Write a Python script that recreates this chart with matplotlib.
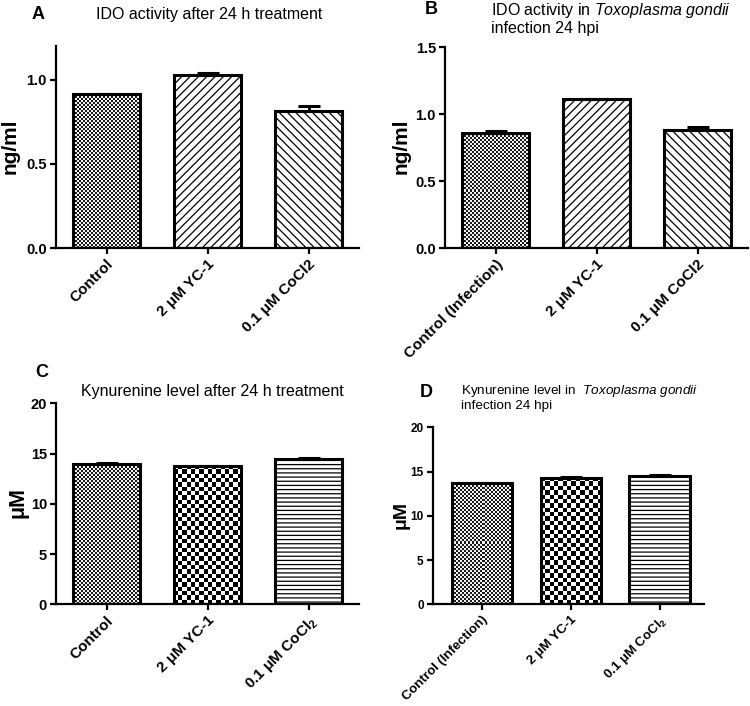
import numpy as np
import matplotlib
matplotlib.use("Agg")
import matplotlib.pyplot as plt
from matplotlib.colors import ListedColormap

plt.rcParams['font.family'] = ['Liberation Sans', 'DejaVu Sans']
plt.rcParams['mathtext.fontset'] = 'custom'
plt.rcParams['mathtext.rm'] = 'Liberation Sans'
plt.rcParams['mathtext.it'] = 'Liberation Sans:italic'
plt.rcParams['mathtext.bf'] = 'Liberation Sans:bold'
plt.rcParams['hatch.linewidth'] = 0.9

# ---------------- data ----------------
labels_A = ["Control", "2 \u03bcM YC-1", "0.1 \u03bcM CoCl2"]
values_A = [0.912, 1.030, 0.812]
errors_A = [0.005, 0.008, 0.032]

labels_B = ["Control (Infection)", "2 \u03bcM YC-1", "0.1 \u03bcM CoCl2"]
values_B = [0.857, 1.110, 0.884]
errors_B = [0.016, 0.006, 0.018]

labels_C = ["Control", "2 \u03bcM YC-1", "0.1 \u03bcM CoCl" + r"$_\mathbf{2}$"]
values_C = [13.93, 13.75, 14.42]
errors_C = [0.10, 0.05, 0.10]

labels_D = ["Control (Infection)", "2 \u03bcM YC-1", "0.1 \u03bcM CoCl" + r"$_\mathbf{2}$"]
values_D = [13.66, 14.27, 14.48]
errors_D = [0.06, 0.14, 0.08]

W, H = 750, 706
fig = plt.figure(figsize=(W / 100, H / 100), dpi=100)


def px_axes(x0, ytop, x1, ybot):
    return fig.add_axes([x0 / W, 1 - ybot / H, (x1 - x0) / W, (ybot - ytop) / H])


def checker(ax, bar, sq, colors, z):
    bb = bar.get_bbox()
    d = ax.transData.transform([[bb.x0, bb.y0], [bb.x1, bb.y1]])
    nx = max(1, int(round((d[1, 0] - d[0, 0]) / sq)))
    ny = max(1, int(round((d[1, 1] - d[0, 1]) / sq)))
    arr = np.add.outer(np.arange(ny), np.arange(nx)) % 2
    im = ax.imshow(arr, cmap=ListedColormap(colors), extent=(bb.x0, bb.x1, bb.y0, bb.y1),
                   origin='lower', interpolation='nearest', aspect='auto', zorder=z)
    im.set_clip_path(bar)


def panel(ax, labels, values, errors, xlim, ylim, yticks, fmt, styles, width,
          ylabel, ylab_xy, tick_fs, xlab_fs, ylab_fs):
    x = np.arange(len(values))
    ax.set_xlim(*xlim)
    ax.set_ylim(*ylim)
    bars = ax.bar(x, values, width=width, facecolor='none', edgecolor='black',
                  linewidth=2.2, zorder=3)
    for b, st in zip(bars, styles):
        kind, arg = st
        if kind == 'checker':
            checker(ax, b, arg[0], arg[1], 2)
        elif kind == 'hatch':
            b.set_hatch(arg)
    ax.errorbar(x, values, yerr=[np.zeros(len(values)), errors], fmt='none',
                ecolor='black', elinewidth=2, capsize=8, capthick=2.2, zorder=4)
    ax.set_xlim(*xlim)
    ax.set_ylim(*ylim)
    for s in ['top', 'right']:
        ax.spines[s].set_visible(False)
    for s in ['left', 'bottom']:
        ax.spines[s].set_linewidth(1.6)
    ax.set_yticks(yticks)
    ax.set_yticklabels([fmt.format(v) for v in yticks])
    ax.set_xticks(x)
    ax.set_xticklabels(labels, rotation=45, ha='right', rotation_mode='anchor',
                       fontweight='bold', fontsize=xlab_fs)
    ax.tick_params(axis='both', direction='out', length=4.5, width=1.6, pad=2)
    ax.tick_params(axis='y', labelsize=tick_fs)
    for t in ax.get_yticklabels():
        t.set_fontweight('bold')
    ax.set_ylabel(ylabel, fontsize=ylab_fs, fontweight='bold', va='center')
    ax.yaxis.set_label_coords(*ylab_xy)


fine = ('checker', (2, ['#1a1a1a', '#f2f2f2']))
coarse = ('checker', (4.3, ['#000000', '#ffffff']))

axA = px_axes(56, 46, 359, 248)
panel(axA, labels_A, values_A, errors_A, (-0.5, 2.5), (0, 1.2), [0.0, 0.5, 1.0], '{:.1f}',
      [fine, ('hatch', '////'), ('hatch', '\\\\\\\\')], 0.67,
      'ng/ml', (-0.15, 0.505), 10.5, 11, 15)

axB = px_axes(445, 47.3, 748, 248)
panel(axB, labels_B, values_B, errors_B, (-0.5, 2.5), (0, 1.5), [0.0, 0.5, 1.0, 1.5], '{:.1f}',
      [fine, ('hatch', '////'), ('hatch', '\\\\\\\\')], 0.67,
      'ng/ml', (-0.144, 0.508), 10.5, 11, 15)

axC = px_axes(56, 403.3, 359, 604.3)
panel(axC, labels_C, values_C, errors_C, (-0.5, 2.5), (0, 20), [0, 5, 10, 15, 20], '{:d}',
      [fine, coarse, ('hatch', '----')], 0.67,
      '\u03bcM', (-0.127, 0.506), 10.5, 11, 15.5)

axD = px_axes(432.7, 427.3, 704, 604.3)
panel(axD, labels_D, values_D, errors_D, (-0.55, 2.5), (0, 20), [0, 5, 10, 15, 20], '{:d}',
      [fine, coarse, ('hatch', '----')], 0.676,
      '\u03bcM', (-0.118, 0.505), 8.5, 9.5, 14)


def ftext(x, y, s, **kw):
    fig.text(x / W, 1 - y / H, s, va='baseline', ha='left', **kw)


ftext(32, 19, 'A', fontsize=13, fontweight='bold')
ftext(96, 19, 'IDO activity after 24 h treatment', fontsize=11.5)
ftext(425, 14.5, 'B', fontsize=13, fontweight='bold')
ftext(491, 15, r'IDO activity in $\mathit{Toxoplasma\ gondii}$', fontsize=11.5)
ftext(491, 32.5, 'infection 24 hpi', fontsize=11.5)
ftext(35, 377, 'C', fontsize=13, fontweight='bold')
ftext(81, 396, 'Kynurenine level after 24 h treatment', fontsize=11.5)
ftext(420, 397, 'D', fontsize=13, fontweight='bold')
ftext(461, 394, r'Kynurenine level in  $\mathit{Toxoplasma\ gondii}$', fontsize=9.7)
ftext(461, 409, 'infection 24 hpi', fontsize=9.7)

fig.savefig('out.png', dpi=100)
